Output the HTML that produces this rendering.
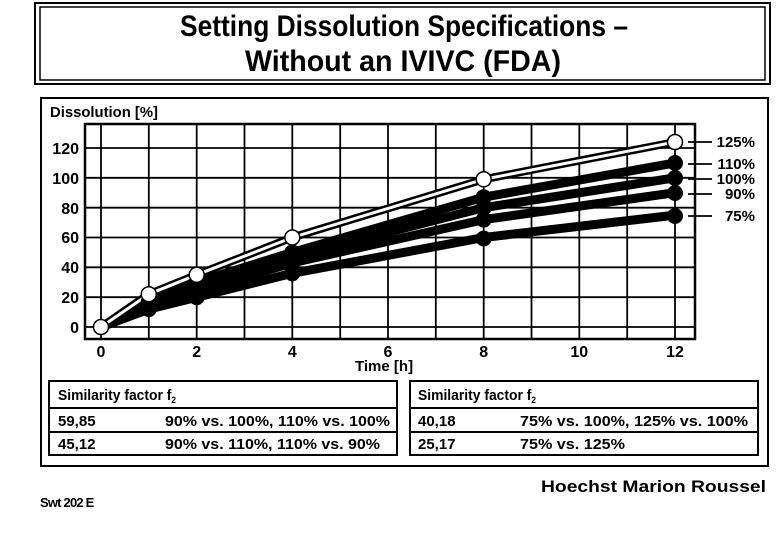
<!DOCTYPE html>
<html><head><meta charset="utf-8"><style>
html,body{margin:0;padding:0;background:#fff}
svg{display:block}
text{font-family:"Liberation Sans",Arial,sans-serif;fill:#000}
</style></head><body>
<svg width="779" height="539" viewBox="0 0 779 539" xmlns="http://www.w3.org/2000/svg">
<rect x="35" y="3" width="735" height="81" fill="none" stroke="#000" stroke-width="2"/>
<rect x="40" y="7" width="725" height="73" fill="none" stroke="#000" stroke-width="1.5"/>
<text x="180" y="36" font-size="30" font-weight="bold" textLength="448" lengthAdjust="spacingAndGlyphs">Setting Dissolution Specifications –</text>
<text x="245" y="71" font-size="30" font-weight="bold" textLength="316" lengthAdjust="spacingAndGlyphs">Without an IVIVC (FDA)</text>
<rect x="41" y="98" width="727" height="368" fill="none" stroke="#000" stroke-width="2"/>
<text x="50" y="117" font-size="15" font-weight="bold" textLength="108" lengthAdjust="spacingAndGlyphs">Dissolution [%]</text>
<g stroke="#000" stroke-width="1.8">
<line x1="101" y1="124" x2="101" y2="339"/><line x1="148.8" y1="124" x2="148.8" y2="339"/>
<line x1="196.7" y1="124" x2="196.7" y2="339"/><line x1="244.5" y1="124" x2="244.5" y2="339"/>
<line x1="292.3" y1="124" x2="292.3" y2="339"/><line x1="340.2" y1="124" x2="340.2" y2="339"/>
<line x1="388" y1="124" x2="388" y2="339"/><line x1="435.8" y1="124" x2="435.8" y2="339"/>
<line x1="483.7" y1="124" x2="483.7" y2="339"/><line x1="531.5" y1="124" x2="531.5" y2="339"/>
<line x1="579.3" y1="124" x2="579.3" y2="339"/><line x1="627.2" y1="124" x2="627.2" y2="339"/>
<line x1="675" y1="124" x2="675" y2="339"/>
<line x1="85" y1="327" x2="695" y2="327"/><line x1="85" y1="297.2" x2="695" y2="297.2"/>
<line x1="85" y1="267.3" x2="695" y2="267.3"/><line x1="85" y1="237.5" x2="695" y2="237.5"/>
<line x1="85" y1="207.7" x2="695" y2="207.7"/><line x1="85" y1="177.8" x2="695" y2="177.8"/>
<line x1="85" y1="148" x2="695" y2="148"/>
</g>
<rect x="85" y="124" width="610" height="215" fill="none" stroke="#000" stroke-width="2.5"/>
<g font-size="16" font-weight="bold" text-anchor="end">
<text x="79" y="333">0</text><text x="79" y="303">20</text><text x="79" y="273">40</text>
<text x="79" y="243">60</text><text x="79" y="214">80</text><text x="79" y="184">100</text><text x="79" y="154">120</text>
</g>
<g font-size="16" font-weight="bold" text-anchor="middle">
<text x="101" y="357">0</text><text x="196.7" y="357">2</text><text x="292.3" y="357">4</text>
<text x="388" y="357">6</text><text x="483.7" y="357">8</text><text x="579.3" y="357">10</text><text x="675" y="357">12</text>
</g>
<text x="355" y="371" font-size="15" font-weight="bold">Time [h]</text>
<g fill="none" stroke="#000" stroke-width="9" stroke-linejoin="round">
<polyline points="101,327 148.8,301.6 196.7,282.2 292.3,252.4 483.7,197.2 675,162.9"/>
<polyline points="101,327 148.8,304.6 196.7,286.7 292.3,256.9 483.7,207.7 675,177.8"/>
<polyline points="101,327 148.8,307.6 196.7,291.2 292.3,262.9 483.7,219.6 675,192.7"/>
<polyline points="101,327 148.8,309.1 196.7,297.2 292.3,273.3 483.7,237.5 675,215.1"/>
</g>
<polyline points="101,327 148.8,294.2 196.7,274.8 292.3,237.5 483.7,179.3 675,142" fill="none" stroke="#000" stroke-width="8" stroke-linejoin="round"/>
<polyline points="101,327 148.8,294.2 196.7,274.8 292.3,237.5 483.7,179.3 675,142" fill="none" stroke="#fff" stroke-width="3" stroke-linejoin="round"/>
<g fill="#000">
<circle cx="148.8" cy="301.6" r="8"/><circle cx="196.7" cy="282.2" r="8"/><circle cx="292.3" cy="252.4" r="8"/><circle cx="483.7" cy="197.2" r="8"/><circle cx="675" cy="163" r="8"/>
<circle cx="148.8" cy="304.6" r="8"/><circle cx="196.7" cy="286.7" r="8"/><circle cx="292.3" cy="256.9" r="8"/><circle cx="483.7" cy="207.7" r="8"/><circle cx="675" cy="178" r="8"/>
<circle cx="148.8" cy="307.6" r="8"/><circle cx="196.7" cy="291.2" r="8"/><circle cx="292.3" cy="262.9" r="8"/><circle cx="483.7" cy="219.6" r="8"/><circle cx="675" cy="193" r="8"/>
<circle cx="148.8" cy="309.1" r="8"/><circle cx="196.7" cy="297.2" r="8"/><circle cx="292.3" cy="273.3" r="8"/><circle cx="483.7" cy="238.5" r="8"/><circle cx="675" cy="216" r="8"/>
</g>
<g fill="#fff" stroke="#000" stroke-width="1.5">
<circle cx="101" cy="327" r="7.5"/><circle cx="148.8" cy="294.2" r="7.5"/><circle cx="196.7" cy="274.8" r="7.5"/><circle cx="292.3" cy="237.5" r="7.5"/><circle cx="483.7" cy="179.3" r="7.5"/><circle cx="675" cy="142" r="7.5"/>
</g>
<g stroke="#000" stroke-width="1.8">
<line x1="688" y1="142" x2="712" y2="142"/><line x1="688" y1="164" x2="712" y2="164"/>
<line x1="688" y1="179" x2="712" y2="179"/><line x1="688" y1="194" x2="712" y2="194"/>
<line x1="688" y1="216" x2="712" y2="216"/>
</g>
<g font-size="15" text-anchor="end" font-weight="bold" stroke="#fff" stroke-width="0">
<text x="755" y="147">125%</text><text x="755" y="169">110%</text><text x="755" y="184">100%</text>
<text x="755" y="199">90%</text><text x="755" y="221">75%</text>
</g>
<g fill="none" stroke="#000" stroke-width="2">
<rect x="49" y="381" width="348" height="74"/><line x1="49" y1="408" x2="397" y2="408"/><line x1="49" y1="432" x2="397" y2="432"/>
<rect x="410" y="381" width="348" height="74"/><line x1="410" y1="408" x2="758" y2="408"/><line x1="410" y1="432" x2="758" y2="432"/>
</g>
<g font-size="15" font-weight="bold">
<text x="58" y="400" textLength="118" lengthAdjust="spacingAndGlyphs">Similarity factor f<tspan font-size="9" dy="3">2</tspan></text>
<text x="58" y="426">59,85</text><text x="165" y="426" textLength="225" lengthAdjust="spacingAndGlyphs">90% vs. 100%, 110% vs. 100%</text>
<text x="58" y="449">45,12</text><text x="165" y="449" textLength="215" lengthAdjust="spacingAndGlyphs">90% vs. 110%, 110% vs. 90%</text>
<text x="418" y="400" textLength="118" lengthAdjust="spacingAndGlyphs">Similarity factor f<tspan font-size="9" dy="3">2</tspan></text>
<text x="418" y="426">40,18</text><text x="520" y="426" textLength="228" lengthAdjust="spacingAndGlyphs">75% vs. 100%, 125% vs. 100%</text>
<text x="418" y="449">25,17</text><text x="520" y="449" textLength="105" lengthAdjust="spacingAndGlyphs">75% vs. 125%</text>
</g>
<text x="541" y="492" font-size="17" font-weight="bold" textLength="225" lengthAdjust="spacingAndGlyphs">Hoechst Marion Roussel</text>
<text x="40" y="507" font-size="13" font-weight="bold" letter-spacing="-0.8">Swt 202 E</text>
</svg>
</body></html>
